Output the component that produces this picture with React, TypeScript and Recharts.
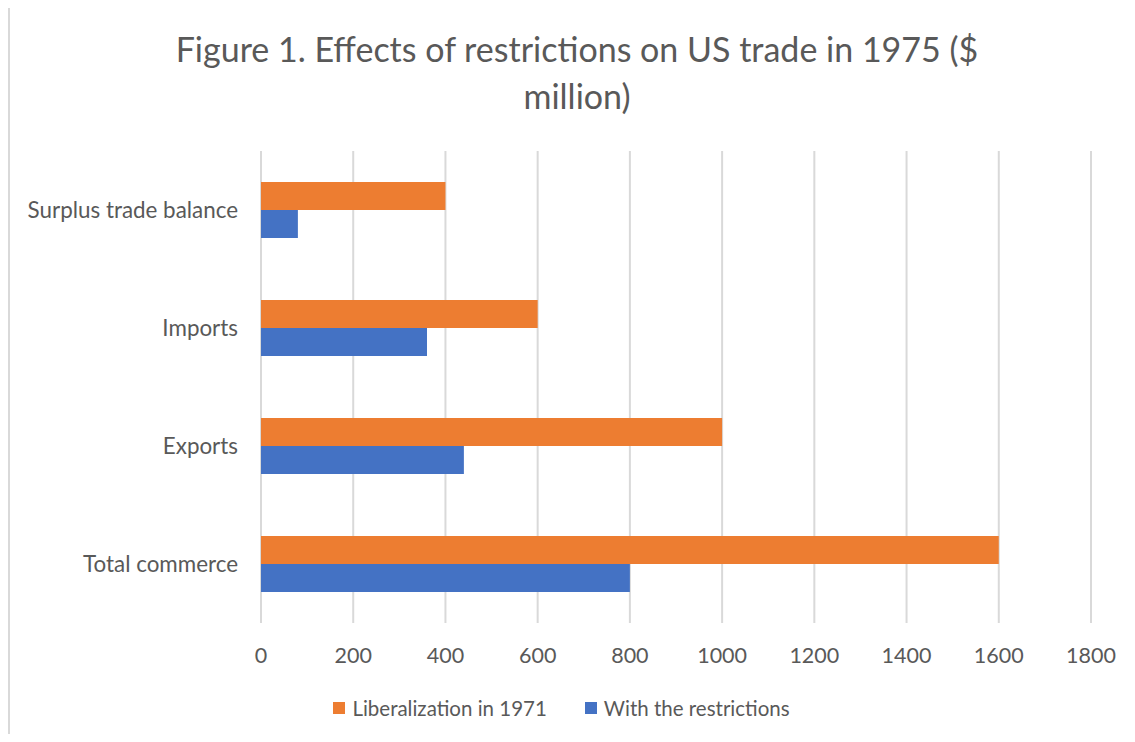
import { BarChart, Bar, XAxis, YAxis, CartesianGrid, Legend } from 'recharts'

const categories = ['Surplus trade balance', 'Imports', 'Exports', 'Total commerce']
const liberalization = [400, 600, 1000, 1600]
const restrictions = [80, 360, 440, 800]
const xTicks = [0, 200, 400, 600, 800, 1000, 1200, 1400, 1600, 1800]

const ORANGE = '#ED7D31'
const BLUE = '#4472C4'
const TEXT = '#595959'
const FONT = 'Lato, "Open Sans", sans-serif'

const data = categories.map((name, i) => ({
  name,
  liberalization: liberalization[i],
  restrictions: restrictions[i],
}))

const seriesLabels: Record<string, string> = {
  liberalization: 'Liberalization in 1971',
  restrictions: 'With the restrictions',
}

const LegendContent = ({ payload }: { payload?: Array<{ value: string; color: string; dataKey?: string }> }) => (
  <div style={{ display: 'flex', justifyContent: 'center', alignItems: 'center', gap: 38, fontFamily: FONT, fontSize: 20.5, color: TEXT }}>
    {(payload || []).map((entry, i) => (
      <div key={i} style={{ display: 'flex', alignItems: 'center' }}>
        <div style={{ width: 12, height: 12, backgroundColor: entry.color, marginRight: 7 }} />
        <span>{seriesLabels[String(entry.dataKey)] || entry.value}</span>
      </div>
    ))}
  </div>
)

export default function App() {
  return (
    <div
      style={{
        position: 'relative',
        marginTop: -3,
        width: 1127,
        height: 729,
        boxSizing: 'border-box',
        borderTop: '2px solid #D9D9D9',
        borderLeft: '2px solid #D9D9D9',
        background: '#fff',
        fontFamily: FONT,
      }}
    >
      <div
        style={{
          position: 'absolute',
          left: 0,
          top: 18,
          width: 1134,
          textAlign: 'center',
          fontSize: 34,
          lineHeight: '47px',
          color: TEXT,
          fontFamily: FONT,
        }}
      >
        Figure 1. Effects of restrictions on US trade in 1975 ($
        <br />
        million)
      </div>
      <BarChart
        width={1125}
        height={727}
        data={data}
        layout="vertical"
        margin={{ top: 144, right: 44, bottom: 51, left: 0 }}
        barSize={28}
        barGap={0}
        style={{ position: 'absolute', left: 0, top: 0 }}
      >
        <CartesianGrid horizontal={false} vertical stroke="#D9D9D9" strokeWidth={2} />
        <XAxis
          type="number"
          domain={[0, 1800]}
          ticks={xTicks}
          axisLine={false}
          tickLine={false}
          tickSize={0}
          tickMargin={25}
          height={60}
          interval={0}
          tick={{ fill: TEXT, fontSize: 21.5, fontFamily: FONT }}
        />
        <YAxis
          type="category"
          dataKey="name"
          width={251}
          axisLine={false}
          tickLine={false}
          tickSize={0}
          tickMargin={23}
          interval={0}
          tick={{ fill: TEXT, fontSize: 22.4, fontFamily: FONT }}
        />
        <Legend
          verticalAlign="middle"
          align="center"
          wrapperStyle={{ top: 689, left: -11, width: 1125 }}
          content={<LegendContent />}
        />
        <Bar dataKey="liberalization" name="Liberalization in 1971" fill={ORANGE} isAnimationActive={false} />
        <Bar dataKey="restrictions" name="With the restrictions" fill={BLUE} isAnimationActive={false} />
      </BarChart>
    </div>
  )
}
